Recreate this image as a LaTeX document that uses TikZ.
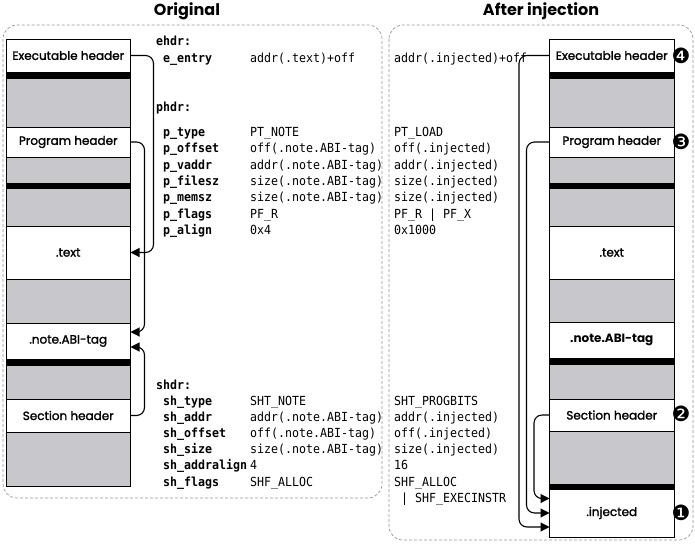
\documentclass[tikz,border=0pt]{standalone}
\usepackage{fontspec}
\usetikzlibrary{arrows.meta,calc}
\newfontfamily\labelfont{Poppins}[FakeBold=1.6]
\newfontfamily\titlefont{Poppins}
\newfontfamily\codefont{DejaVu Sans Mono}[FakeStretch=0.93]
\newfontfamily\dingfont{DejaVu Sans}
\definecolor{segfill}{RGB}{200,200,204}
\definecolor{dashgray}{RGB}{150,150,150}
\begin{document}
\begin{tikzpicture}[x=1pt,y=-1pt,
  seg/.style={draw, line width=1pt, minimum width=124.5pt, inner sep=0pt, outer sep=0pt,
    anchor=north west, font=\labelfont\fontsize{12}{14}\selectfont},
  wseg/.style={seg, fill=white},
  gseg/.style={seg, fill=segfill},
  bseg/.style={seg, fill=black},
  codetxt/.style={anchor=base west, inner sep=0pt, font=\codefont\fontsize{12.5}{14}\selectfont},
  codebold/.style={anchor=base west, inner sep=0pt, font=\codefont\bfseries\fontsize{12.5}{14}\selectfont},
  conn/.style={line width=1.1pt, rounded corners=8pt, -{Triangle[length=9pt,width=9pt]}},
  container/.style={draw=dashgray, line width=0.7pt, dash pattern=on 3pt off 2pt, rounded corners=14pt},
  titletxt/.style={font=\titlefont\bfseries\fontsize{16}{18}\selectfont, inner sep=0pt},
  marker/.style={font=\dingfont\fontsize{21}{24}\selectfont, inner sep=0pt}
]
\useasboundingbox (0,0) rectangle (695,544);

% containers
\draw[container] (3,25) rectangle (382,498);
\draw[container] (389,25) rectangle (693,540);

% titles
\node[titletxt] (t1) at (187,11) {Original};
\node[titletxt] (t2) at (541,11) {After injection};

% left column
\node[wseg, minimum height=33pt] (lexe) at (6,39) {Executable header};
\node[bseg, minimum height=6pt] (lb1) at (6,72) {};
\node[gseg, minimum height=49pt] (lg1) at (6,78) {};
\node[wseg, minimum height=30pt] (lph) at (6,127) {Program header};
\node[gseg, minimum height=26pt] (lg2) at (6,157) {};
\node[bseg, minimum height=5pt] (lb2) at (6,183) {};
\node[gseg, minimum height=38pt] (lg3) at (6,188) {};
\node[wseg, minimum height=53pt] (ltext) at (6,226) {.text};
\node[gseg, minimum height=44pt] (lg4) at (6,279) {};
\node[wseg, minimum height=36pt] (lnote) at (6,323) {.note.ABI-tag};
\node[bseg, minimum height=6pt] (lb3) at (6,359) {};
\node[gseg, minimum height=34pt] (lg5) at (6,365) {};
\node[wseg, minimum height=33pt] (lsh) at (6,399) {Section header};
\node[gseg, minimum height=54pt] (lg6) at (6,432) {};

% right column
\node[wseg, minimum height=33pt] (rexe) at (549.5,39) {Executable header};
\node[bseg, minimum height=6pt] (rb1) at (549.5,72) {};
\node[gseg, minimum height=49pt] (rg1) at (549.5,78) {};
\node[wseg, minimum height=30pt] (rph) at (549.5,127) {Program header};
\node[gseg, minimum height=26pt] (rg2) at (549.5,157) {};
\node[bseg, minimum height=5pt] (rb2) at (549.5,183) {};
\node[gseg, minimum height=38pt] (rg3) at (549.5,188) {};
\node[wseg, minimum height=53pt] (rtext) at (549.5,226) {.text};
\node[gseg, minimum height=43pt] (rg4) at (549.5,279) {};
\node[wseg, minimum height=36pt, font=\titlefont\bfseries\fontsize{12}{14}\selectfont] (rnote) at (549.5,322) {.note.ABI-tag};
\node[bseg, minimum height=6pt] (rb3) at (549.5,358) {};
\node[gseg, minimum height=35pt] (rg5) at (549.5,364) {};
\node[wseg, minimum height=32pt] (rsh) at (549.5,399) {Section header};
\node[gseg, minimum height=53pt] (rg6) at (549.5,431) {};
\node[bseg, minimum height=5pt] (rb4) at (549.5,484) {};
\node[wseg, minimum height=48pt] (rinj) at (549.5,489) {.injected};

% markers
\node[marker] (m4) at (681,56) {❹};
\node[marker] (m3) at (681,142) {❸};
\node[marker] (m2) at (681,414) {❷};
\node[marker] (m1) at (681,513) {❶};

% left connectors
\draw[conn] (lexe.east) -- ([xshift=23pt]lexe.east) |- (ltext.east);
\draw[conn] (lph.east) -- ([xshift=14pt]lph.east) |- ([yshift=9pt]lnote.east);
\draw[conn] (lsh.east) -- ([xshift=14pt]lsh.east) |- ([yshift=-6pt]lnote.east);

% right connectors
\draw[conn] (rexe.west) -- ([xshift=-30.5pt]rexe.west) |- ([yshift=-14pt]rinj.west);
\draw[conn] (rph.west) -- ([xshift=-23pt]rph.west) |- (rinj.west);
\draw[conn] (rsh.west) -- ([xshift=-15.5pt]rsh.west) |- ([yshift=14.5pt]rinj.west);

% ehdr
\node[codebold] (eh) at (156,45.5) {ehdr:};
\node[codebold] (eentry) at (163,62) {e\_entry};
\node[codetxt] (eentryv) at (250,62) {addr(.text)+off};
\node[codetxt] (eentryr) at (394,62) {addr(.injected)+off};

% phdr
\node[codebold] (ph) at (156,111) {phdr:};
\node[codebold] (pf1) at (163,136.5) {p\_type};
\node[codebold] (pf2) at (163,152.8) {p\_offset};
\node[codebold] (pf3) at (163,169.2) {p\_vaddr};
\node[codebold] (pf4) at (163,185.5) {p\_filesz};
\node[codebold] (pf5) at (163,201.8) {p\_memsz};
\node[codebold] (pf6) at (163,218.2) {p\_flags};
\node[codebold] (pf7) at (163,234.5) {p\_align};
\node[codetxt] (pv1) at (250,136.5) {PT\_NOTE};
\node[codetxt] (pv2) at (250,152.8) {off(.note.ABI-tag)};
\node[codetxt] (pv3) at (250,169.2) {addr(.note.ABI-tag)};
\node[codetxt] (pv4) at (250,185.5) {size(.note.ABI-tag)};
\node[codetxt] (pv5) at (250,201.8) {size(.note.ABI-tag)};
\node[codetxt] (pv6) at (250,218.2) {PF\_R};
\node[codetxt] (pv7) at (250,234.5) {0x4};
\node[codetxt] (pr1) at (394,136.5) {PT\_LOAD};
\node[codetxt] (pr2) at (394,152.8) {off(.injected)};
\node[codetxt] (pr3) at (394,169.2) {addr(.injected)};
\node[codetxt] (pr4) at (394,185.5) {size(.injected)};
\node[codetxt] (pr5) at (394,201.8) {size(.injected)};
\node[codetxt] (pr6) at (394,218.2) {PF\_R | PF\_X};
\node[codetxt] (pr7) at (394,234.5) {0x1000};

% shdr
\node[codebold] (sh) at (156,389) {shdr:};
\node[codebold] (sf1) at (163,405) {sh\_type};
\node[codebold] (sf2) at (163,421.2) {sh\_addr};
\node[codebold] (sf3) at (163,437.4) {sh\_offset};
\node[codebold] (sf4) at (163,453.6) {sh\_size};
\node[codebold] (sf5) at (163,469.8) {sh\_addralign};
\node[codebold] (sf6) at (163,486) {sh\_flags};
\node[codetxt] (sv1) at (250,405) {SHT\_NOTE};
\node[codetxt] (sv2) at (250,421.2) {addr(.note.ABI-tag)};
\node[codetxt] (sv3) at (250,437.4) {off(.note.ABI-tag)};
\node[codetxt] (sv4) at (250,453.6) {size(.note.ABI-tag)};
\node[codetxt] (sv5) at (250,469.8) {4};
\node[codetxt] (sv6) at (250,486) {SHF\_ALLOC};
\node[codetxt] (sr1) at (394,405) {SHT\_PROGBITS};
\node[codetxt] (sr2) at (394,421.2) {addr(.injected)};
\node[codetxt] (sr3) at (394,437.4) {off(.injected)};
\node[codetxt] (sr4) at (394,453.6) {size(.injected)};
\node[codetxt] (sr5) at (394,469.8) {16};
\node[codetxt] (sr6) at (394,486) {SHF\_ALLOC};
\node[codetxt] (sr7) at (401,502.2) {| SHF\_EXECINSTR};
\end{tikzpicture}
\end{document}
